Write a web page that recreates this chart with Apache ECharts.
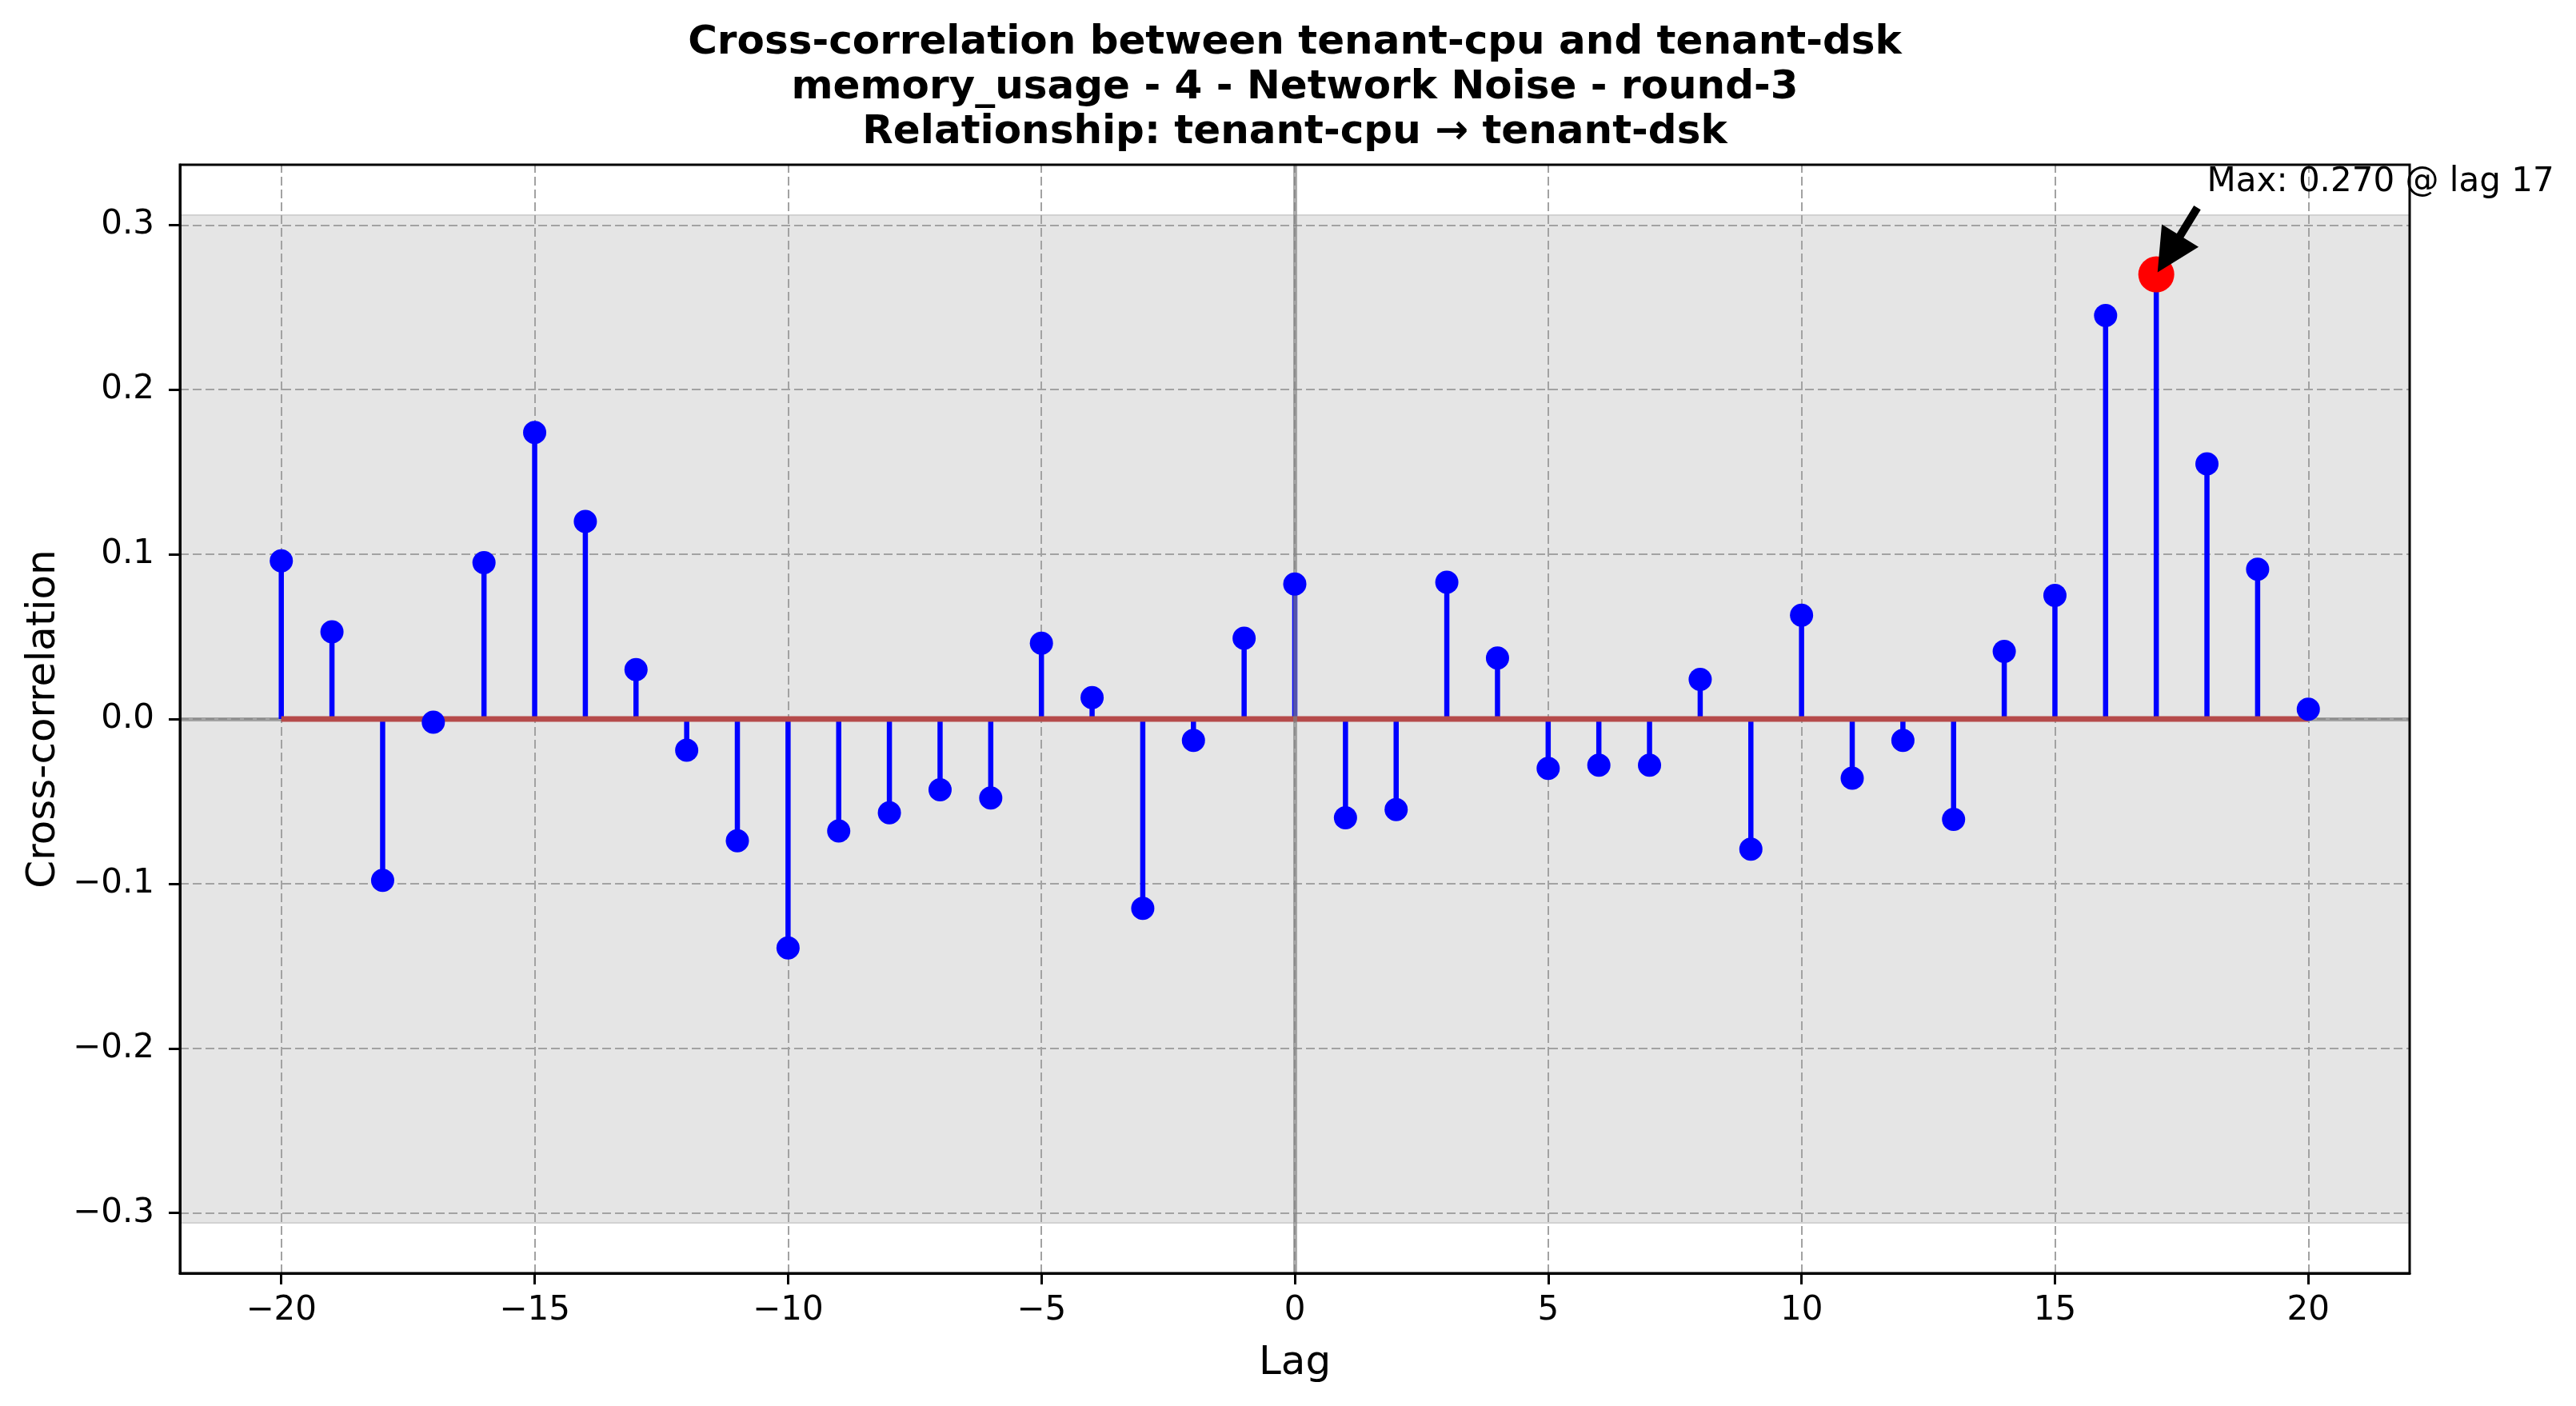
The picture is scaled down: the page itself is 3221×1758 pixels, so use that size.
<!DOCTYPE html>
<html>
<head>
<meta charset="utf-8">
<title>Cross-correlation between tenant-cpu and tenant-dsk</title>
<script src="https://cdn.jsdelivr.net/npm/echarts@6/dist/echarts.min.js"></script>
<style>
  html, body { margin: 0; padding: 0; background: #ffffff; }
  #chart { width: 3221px; height: 1758px; }
</style>
</head>
<body>
<div id="chart"></div>
<script>
const lags = [-20, -19, -18, -17, -16, -15, -14, -13, -12, -11, -10, -9, -8, -7, -6, -5, -4, -3, -2, -1,
  0, 1, 2, 3, 4, 5, 6, 7, 8, 9, 10, 11, 12, 13, 14, 15, 16, 17, 18, 19, 20];
const correlations = [0.096, 0.053, -0.098, -0.002, 0.095, 0.174, 0.120, 0.030, -0.019, -0.074,
  -0.139, -0.068, -0.057, -0.043, -0.048, 0.046, 0.013, -0.115, -0.013, 0.049,
  0.082, -0.060, -0.055, 0.083, 0.037, -0.030, -0.028, -0.028, 0.024, -0.079,
  0.063, -0.036, -0.013, -0.061, 0.041, 0.075, 0.245, 0.270, 0.155, 0.091, 0.006];
const confidenceBound = 0.306;
const xTicks = [-20, -15, -10, -5, 0, 5, 10, 15, 20];
const yTicks = [-0.3, -0.2, -0.1, 0.0, 0.1, 0.2, 0.3];
const titleLines = [
  'Cross-correlation between tenant-cpu and tenant-dsk',
  'memory_usage - 4 - Network Noise - round-3',
  'Relationship: tenant-cpu \u2192 tenant-dsk',
];
const annotationOffset = [1, 0.05];

const FONT = '"DejaVu Sans", "Liberation Sans", sans-serif';
const GRID_COLOR = '#a2a2a2';
const ZERO_LINE = 'rgba(128,128,128,0.65)';

function withMinus(text) {
  return String(text).replace('-', '\u2212');
}

const chart = echarts.init(document.getElementById('chart'), null, { renderer: 'canvas' });

let maxIndex = 0;
correlations.forEach((v, i) => { if (v > correlations[maxIndex]) maxIndex = i; });
const maxLag = lags[maxIndex];
const maxVal = correlations[maxIndex];
const points = lags.map((lag, i) => [lag, correlations[i]]);

function refLine(z, data) {
  return {
    type: 'line',
    data: [],
    z,
    silent: true,
    markLine: {
      z,
      silent: true,
      symbol: 'none',
      label: { show: false },
      lineStyle: { color: ZERO_LINE, width: 5, type: 'solid' },
      data,
    },
  };
}

chart.setOption({
  animation: false,
  backgroundColor: '#ffffff',
  title: {
    text: titleLines.join('\n'),
    left: 1619,
    top: 26,
    padding: 0,
    textAlign: 'center',
    textStyle: { fontFamily: FONT, fontSize: 50, fontWeight: 'bold', color: '#000', lineHeight: 56 },
  },
  grid: {
    left: 225, right: 208, top: 206, bottom: 166,
    show: true, backgroundColor: 'transparent', borderColor: '#000', borderWidth: 3, z: 10,
  },
  xAxis: {
    type: 'value',
    min: -22,
    max: 22,
    z: 10,
    name: 'Lag',
    nameLocation: 'middle',
    nameGap: 88,
    nameTextStyle: { fontFamily: FONT, fontSize: 50, color: '#000' },
    axisLine: { show: true, onZero: false, lineStyle: { color: '#000', width: 3 } },
    axisTick: { show: true, length: 14, customValues: xTicks, lineStyle: { color: '#000', width: 3 } },
    axisLabel: {
      customValues: xTicks, margin: 26, fontFamily: FONT, fontSize: 42, color: '#000',
      formatter: (v) => withMinus(v),
    },
    splitLine: { show: false },
  },
  yAxis: {
    type: 'value',
    min: -0.3366,
    max: 0.3366,
    z: 10,
    name: 'Cross-correlation',
    nameLocation: 'middle',
    nameGap: 141,
    nameTextStyle: { fontFamily: FONT, fontSize: 50, color: '#000' },
    axisLine: { show: true, onZero: false, lineStyle: { color: '#000', width: 3 } },
    axisTick: { show: true, length: 14, customValues: yTicks, lineStyle: { color: '#000', width: 3 } },
    axisLabel: {
      customValues: yTicks, margin: 32, fontFamily: FONT, fontSize: 42, color: '#000',
      formatter: (v) => withMinus(Number(v).toFixed(1)),
    },
    splitLine: { show: false },
  },
  series: [
    {
      // confidence band
      type: 'line',
      data: [],
      z: 1,
      silent: true,
      markArea: {
        z: 1,
        silent: true,
        itemStyle: { color: '#e5e5e5', borderColor: '#d2d2d2', borderWidth: 2 },
        data: [[{ yAxis: -confidenceBound }, { yAxis: confidenceBound }]],
      },
    },
    {
      // dashed grid
      type: 'line',
      data: [],
      z: 2,
      silent: true,
      markLine: {
        z: 2,
        silent: true,
        symbol: 'none',
        label: { show: false },
        lineStyle: { color: GRID_COLOR, width: 2, type: [11, 5] },
        data: xTicks.map((v) => ({ xAxis: v })).concat(yTicks.map((v) => ({ yAxis: v }))),
      },
    },
    // horizontal zero line sits under the stem baseline
    refLine(2.5, [{ yAxis: 0 }]),
    {
      // stems
      type: 'custom',
      z: 3,
      silent: true,
      data: points,
      encode: { x: 0, y: 1 },
      renderItem: (params, api) => {
        const tip = api.coord([api.value(0), api.value(1)]);
        const base = api.coord([api.value(0), 0]);
        return {
          type: 'line',
          shape: { x1: base[0], y1: base[1], x2: tip[0], y2: tip[1] },
          style: { stroke: '#0000ff', lineWidth: 6.5 },
        };
      },
    },
    {
      // stem baseline
      type: 'line',
      z: 4,
      silent: true,
      symbol: 'none',
      data: [[lags[0], 0], [lags[lags.length - 1], 0]],
      lineStyle: { color: '#b54a4a', width: 7 },
    },
    // vertical zero line is drawn over the stems
    refLine(5, [{ xAxis: 0 }]),
    {
      type: 'scatter',
      z: 6,
      data: points,
      symbol: 'circle',
      symbolSize: 29,
      itemStyle: { color: '#0000ff', opacity: 1 },
    },
    {
      type: 'scatter',
      z: 7,
      data: [[maxLag, maxVal]],
      symbol: 'circle',
      symbolSize: 45,
      itemStyle: { color: '#ff0000', opacity: 1 },
    },
  ],
});

// annotation: text + arrow pointing at the maximum
const anchor = chart.convertToPixel({ gridIndex: 0 }, [maxLag + annotationOffset[0], maxVal + annotationOffset[1]]);
const target = chart.convertToPixel({ gridIndex: 0 }, [maxLag, maxVal]);
const dx = target[0] - anchor[0];
const dy = target[1] - anchor[1];
const len = Math.hypot(dx, dy);
const ux = dx / len, uy = dy / len;
const nx = -uy, ny = ux;
const tail = [anchor[0] + dx * 0.19, anchor[1] + dy * 0.19];
const tip = [anchor[0] + dx * 0.975, anchor[1] + dy * 0.975];
const headLen = 54, headHalf = 27, shaftHalf = 5;
const hb = [tip[0] - ux * headLen, tip[1] - uy * headLen];
const arrowPts = [
  [tail[0] + nx * shaftHalf, tail[1] + ny * shaftHalf],
  [hb[0] + nx * shaftHalf, hb[1] + ny * shaftHalf],
  [hb[0] + nx * headHalf, hb[1] + ny * headHalf],
  tip,
  [hb[0] - nx * headHalf, hb[1] - ny * headHalf],
  [hb[0] - nx * shaftHalf, hb[1] - ny * shaftHalf],
  [tail[0] - nx * shaftHalf, tail[1] - ny * shaftHalf],
];

chart.setOption({
  graphic: [
    {
      type: 'polygon',
      z: 20,
      silent: true,
      shape: { points: arrowPts },
      style: { fill: '#000' },
    },
    {
      type: 'text',
      z: 20,
      silent: true,
      x: anchor[0],
      y: anchor[1] - 12,
      style: {
        text: `Max: ${maxVal.toFixed(3)} @ lag ${maxLag}`,
        font: `42px ${FONT}`,
        fill: '#000',
        align: 'left',
        verticalAlign: 'middle',
      },
    },
  ],
});
</script>
</body>
</html>
